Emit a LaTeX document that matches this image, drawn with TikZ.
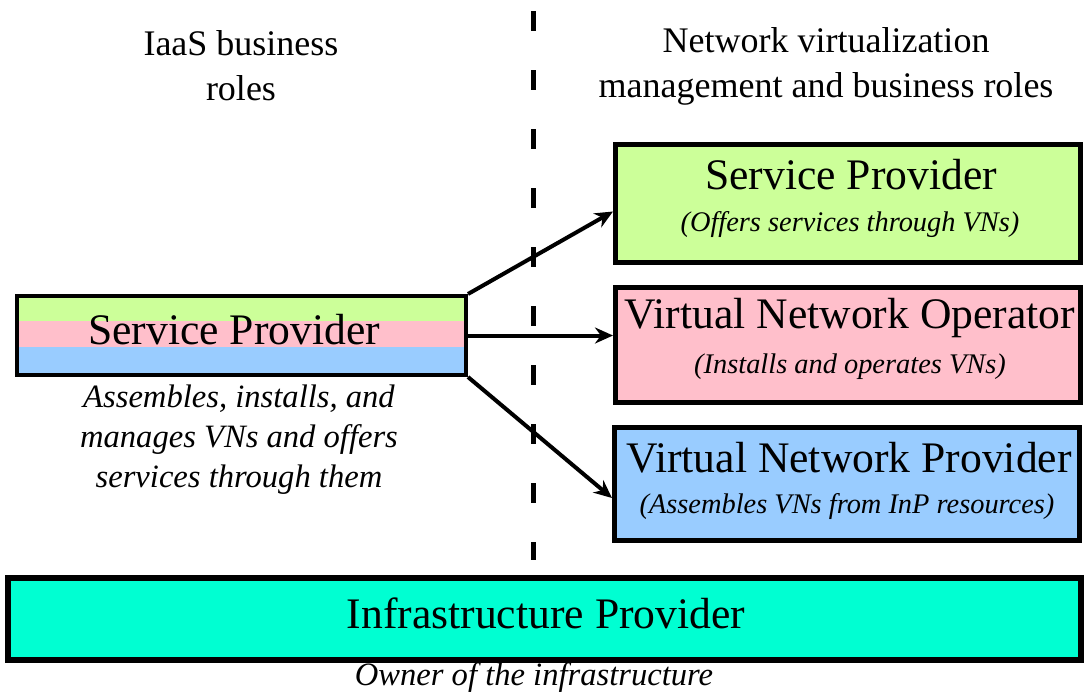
\documentclass[tikz,border=0pt]{standalone}
\usepackage{fontspec}
\setmainfont{LiberationSerif}[Extension=.ttf, UprightFont=*-Regular, ItalicFont=*-Italic, BoldFont=*-Bold, BoldItalicFont=*-BoldItalic]
\usetikzlibrary{arrows.meta}

\definecolor{spgreen}{HTML}{CCFF99}
\definecolor{vnopink}{HTML}{FFBFCB}
\definecolor{vnpblue}{HTML}{99CCFF}
\definecolor{inpcyan}{HTML}{00FFD2}

\tikzset{
  rolebox/.style={draw, line width=2.5pt, inner sep=0pt, minimum width=232.5pt},
  roletitle/.style={font=\fontsize{21.8}{26}\selectfont, inner sep=0pt},
  rolenote/.style={font=\fontsize{14.2}{17}\selectfont\itshape, inner sep=0pt},
  headtext/.style={font=\fontsize{18}{22.5}\selectfont, align=center, inner sep=0pt},
  roleto/.style={line width=2pt, -{Stealth[length=9pt,width=8pt]}},
}

\begin{document}
\begin{tikzpicture}[x=0.5pt,y=-0.5pt]
    \useasboundingbox (0,0) rectangle (1084,693);
    \node[headtext] (iaas) at (241,66) {IaaS business\\roles};
    \node[headtext] (nvhead) at (826,66) {Network virtualization\\management and business roles};
    \draw[line width=2.5pt, dash pattern=on 10pt off 19.5pt] (533,11) -- (533,560);
    % IaaS service provider
    \fill[spgreen] (15,294) rectangle (468,321);
    \fill[vnopink] (15,321) rectangle (468,347);
    \fill[vnpblue] (15,347) rectangle (468,377);
    \node[draw, line width=2pt, inner sep=0pt, minimum width=224.5pt, minimum height=39.5pt] (sp) at (241.5,335.5) {};
    \node[roletitle] (sptitle) at (234,330) {Service Provider};
    \node[headtext, font=\fontsize{16.3}{20}\selectfont\itshape] (spnote) at (239,440)
        {Assembles, installs, and\\manages VNs and offers\\services through them};
    % network virtualization roles
    \node[rolebox, fill=spgreen, minimum height=59pt] (rsp) at (848,203.5) {};
    \node[roletitle] (rsptitle) at (851,175) {Service Provider};
    \node[rolenote] (rspnote) at (850,225) {(Offers services through VNs)};
    \node[rolebox, fill=vnopink, minimum height=57.5pt] (rvno) at (848,345) {};
    \node[roletitle] (rvnotitle) at (850,318) {Virtual Network Operator};
    \node[rolenote] (rvnonote) at (850,366.5) {(Installs and operates VNs)};
    \node[rolebox, fill=vnpblue, minimum height=56.5pt] (rvnp) at (847,484) {};
    \node[roletitle] (rvnptitle) at (849,458) {Virtual Network Provider};
    \node[rolenote] (rvnpnote) at (847,506.5) {(Assembles VNs from InP resources)};
    \draw[roleto] (sp.north east) -- ([yshift=-4pt]rsp.west);
    \draw[roleto] (sp.east) -- (sp.east -| rvno.west);
    \draw[roleto] (sp.south east) -- ([yshift=-7pt]rvnp.west);
    % infrastructure provider
    \node[draw, line width=3pt, inner sep=0pt, fill=inpcyan, minimum width=536.5pt, minimum height=41pt] (inp) at (544.5,619) {};
    \node[roletitle] (inptitle) at (546,613) {Infrastructure Provider};
    \node[font=\fontsize{16.3}{20}\selectfont\itshape, inner sep=0pt] (inpnote) at (534,677) {Owner of the infrastructure};
\end{tikzpicture}
\end{document}
